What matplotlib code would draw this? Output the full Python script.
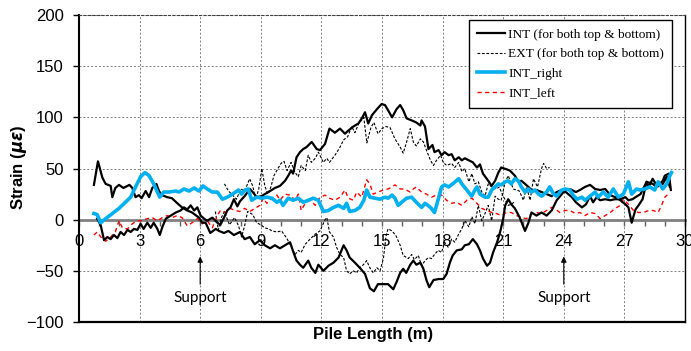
import matplotlib
matplotlib.use('Agg')
import matplotlib.pyplot as plt
from matplotlib.ticker import MultipleLocator

plt.rcParams['font.family'] = 'Liberation Sans'
plt.rcParams['mathtext.fontset'] = 'dejavusans'

# INT, top gauge line (starts high, ends low then back up)
int_a_x = [0.74, 0.94, 1.16, 1.32, 1.57, 1.65, 1.8, 1.98, 2.2, 2.5, 2.64, 2.8, 2.97, 3.1, 3.3, 3.47,
           3.63, 3.83, 3.96, 4.1, 4.37, 4.6, 4.87, 5.1, 5.36, 5.6, 5.94, 6.1, 6.27, 6.5, 6.77, 6.93,
           7.18, 7.4, 7.67, 7.97, 8.2, 8.46, 8.7, 8.96, 9.2, 9.46, 9.7, 9.95, 10.2, 10.45, 10.6, 10.77,
           10.94, 11.1, 11.35, 11.5, 11.7, 11.85, 12.1, 12.35, 12.6, 12.85, 13.1, 13.25, 13.4, 13.66,
           13.9, 14.16, 14.4, 14.6, 14.8, 15.05, 15.3, 15.56, 15.72, 15.9, 16.05, 16.2, 16.4, 16.55,
           16.7, 16.9, 17.05, 17.2, 17.34, 17.55, 17.8, 18.03, 18.2, 18.36, 18.5, 18.7, 18.95, 19.1,
           19.3, 19.5, 19.7, 19.85, 20.0, 20.2, 20.35, 20.5, 20.7, 20.85, 21.0, 21.1, 21.25, 21.4,
           21.58, 21.82, 22.08, 22.25, 22.4, 22.65, 22.9, 23.15, 23.4, 23.65, 23.9, 24.07, 24.3, 24.6,
           24.8, 25.05, 25.3, 25.55, 25.8, 26.05, 26.3, 26.54, 26.8, 27.05, 27.2, 27.36, 27.55, 27.7,
           27.9, 28.1, 28.4, 28.6, 28.9, 29.1, 29.25]
int_a_y = [34, 57, 41, 35, 33, 22, 31, 34, 31, 34, 31, 22, 24, 21, 28, 22,
           31, 35, 28, 24, 22, 21, 16, 12, 9, 7, 2, -3, -3, -13, -9, -11,
           -13, -11, -15, -12, -19, -17, -24, -20, -25, -28, -25, -28, -25, -22, -31, -40,
           -44, -47, -40, -47, -52, -44, -50, -45, -42, -37, -25, -30, -37, -42,
           -47, -53, -67, -70, -63, -63, -63, -68, -61, -52, -48, -52, -44, -40,
           -44, -42, -48, -59, -66, -59, -58, -58, -53, -42, -35, -30, -29, -25,
           -24, -19, -24, -30, -38, -45, -42, -32, -22, -12, 1, 14, 20, 15,
           11, 2, -11, -3, 7, 4, 7, 4, 9, 19, 25, 29, 30, 27,
           29, 32, 34, 30, 29, 30, 24, 22, 19, 15, 12, -3, 10, 14,
           20, 37, 35, 32, 35, 42, 32]

# INT, bottom gauge line (starts low, ends high)
int_b_x = [0.9, 1.07, 1.24, 1.4, 1.57, 1.73, 1.9, 2.06, 2.23, 2.4, 2.56, 2.72, 2.89, 3.05, 3.2, 3.38,
           3.55, 3.7, 3.88, 4.0, 4.13, 4.3, 4.54, 4.79, 5.03, 5.2, 5.36, 5.53, 5.7, 5.86, 6.02, 6.19,
           6.35, 6.6, 6.85, 7.0, 7.18, 7.34, 7.5, 7.67, 7.84, 7.97, 8.2, 8.46, 8.6, 8.8, 9.04, 9.2,
           9.46, 9.7, 9.95, 10.2, 10.36, 10.5, 10.6, 10.77, 10.94, 11.1, 11.27, 11.52, 11.77, 11.93,
           12.18, 12.4, 12.67, 12.92, 13.17, 13.33, 13.58, 13.83, 14.0, 14.16, 14.32, 14.5, 14.75,
           14.98, 15.15, 15.3, 15.5, 15.72, 15.9, 16.05, 16.22, 16.47, 16.7, 16.9, 16.96, 17.13, 17.3,
           17.5, 17.6, 17.8, 17.95, 18.1, 18.3, 18.45, 18.6, 18.8, 18.95, 19.1, 19.3, 19.5, 19.7,
           19.85, 20.0, 20.26, 20.43, 20.6, 20.76, 20.9, 21.2, 21.33, 21.58, 21.75, 21.9, 22.08, 22.25,
           22.4, 22.65, 22.9, 23.15, 23.4, 23.65, 23.9, 24.1, 24.4, 24.6, 24.9, 25.1, 25.3, 25.45,
           25.63, 25.8, 26.05, 26.3, 26.54, 26.8, 27.05, 27.2, 27.4, 27.55, 27.8, 28.1, 28.2, 28.4,
           28.55, 28.7, 28.9, 29.0, 29.2, 29.3]
int_b_y = [1, -5, -20, -17, -19, -15, -18, -12, -15, -10, -12, -9, -10, -4, -9, -3,
           -8, -3, -9, -15, -7, 1, 4, 7, 9, 12, 10, 14, 9, 12, 4, 1,
           -1, 2, -3, -5, 2, 9, 12, 20, 13, 18, 23, 30, 27, 22, 23, 25,
           28, 31, 33, 38, 43, 48, 45, 61, 66, 69, 71, 76, 69, 68,
           74, 89, 85, 89, 84, 87, 91, 94, 99, 105, 94, 102, 108,
           113, 112, 107, 100, 108, 112, 107, 99, 97, 95, 92, 97, 91, 69,
           73, 66, 68, 63, 66, 63, 64, 58, 61, 58, 60, 58, 56, 51,
           54, 45, 38, 33, 38, 46, 51, 49, 48, 43, 37, 38, 35, 32,
           29, 29, 27, 25, 23, 27, 29, 27, 22, 17, 12, 15, 23, 17,
           22, 19, 20, 19, 20, 20, 22, 19, 20, 22, 25, 37, 32, 40,
           35, 34, 38, 43, 45, 29]

# EXT, upper branch
ext_a_x = [7.2, 7.4, 7.6, 7.8, 8.0, 8.2, 8.45, 8.6, 8.75, 8.9, 9.05, 9.2, 9.35, 9.5, 9.65, 9.85,
           10.0, 10.15, 10.3, 10.5, 10.7, 10.86, 11.0, 11.2, 11.35, 11.5, 11.7, 11.85, 12.1, 12.27,
           12.4, 12.67, 12.9, 13.1, 13.3, 13.5, 13.66, 13.85, 14.1, 14.25, 14.45, 14.6, 14.8, 15.0,
           15.2, 15.4, 15.64, 15.9, 16.05, 16.22, 16.4, 16.55, 16.7, 16.9, 17.05, 17.2, 17.4, 17.55,
           17.7, 17.9, 18.03, 18.2, 18.45, 18.6, 18.8, 18.95, 19.1, 19.3, 19.45, 19.6, 19.77, 19.94,
           20.1, 20.26, 20.43, 20.67, 20.8, 21.0, 21.25, 21.4, 21.6]
ext_a_y = [35, 28, 24, 20, 30, 28, 40, 33, 20, 30, 50, 33, 25, 32, 43, 50,
           55, 57, 48, 56, 46, 42, 53, 48, 63, 56, 60, 66, 56, 60,
           56, 63, 70, 78, 81, 91, 85, 94, 100, 75, 90, 95, 84, 89,
           91, 90, 79, 71, 65, 76, 89, 76, 72, 79, 76, 68, 58, 53,
           58, 63, 56, 53, 55, 51, 56, 47, 50, 37, 45, 35, 37, 27,
           23, 35, 32, 30, 32, 23, 14, 15, 18]

# EXT, lower branch
ext_b_x = [6.75, 6.9, 7.05, 7.2, 7.45, 7.7, 7.9, 8.05, 8.2, 8.35, 8.6, 8.8, 9.0, 9.2, 9.4, 9.55,
           9.8, 10.03, 10.28, 10.5, 10.7, 10.86, 11.0, 11.2, 11.44, 11.7, 11.93, 12.18, 12.27, 12.4,
           12.6, 12.75, 12.92, 13.1, 13.25, 13.4, 13.58, 13.75, 13.9, 14.08, 14.24, 14.4, 14.57, 14.75,
           14.9, 15.07, 15.2, 15.3, 15.5, 15.7, 15.9, 16.05, 16.3, 16.47, 16.6, 16.8, 16.96, 17.13,
           17.3, 17.45, 17.6, 17.78, 17.95, 18.1, 18.28, 18.45, 18.6, 18.8, 18.95, 19.1, 19.3, 19.45,
           19.6, 19.77, 19.94, 20.1, 20.26, 20.43, 20.6, 20.76, 20.9, 21.1, 21.25, 21.5, 21.8, 22.0,
           22.16, 22.33, 22.5, 22.7, 22.9, 23.0, 23.15, 23.3]
ext_b_y = [8, -10, 2, 8, -5, 2, -6, -17, -6, 8, 5, -3, -5, -8, -9, -11,
           -12, -11, -18, -26, -34, -30, -32, -24, -19, -14, -11, 0, 2, -12,
           -17, -27, -34, -37, -50, -53, -50, -52, -47, -44, -40, -47, -52, -47,
           -50, -38, -16, -9, -11, -16, -25, -35, -38, -34, -39, -35, -45, -40,
           -37, -38, -34, -30, -32, -22, -27, -19, -22, -14, -9, -1, -7, 3,
           -4, 14, -1, 6, 14, -1, 23, 20, 19, 37, 43, 30, 28, 19,
           32, 19, 40, 32, 50, 55, 50, 51]

# INT_right
right_x = [0.74, 0.9, 1.07, 1.32, 1.65, 1.98, 2.3, 2.56, 2.8, 3.05, 3.27, 3.47, 3.7, 3.88, 4.0, 4.2,
           4.45, 4.79, 4.95, 5.2, 5.45, 5.7, 5.94, 6.14, 6.35, 6.6, 6.85, 7.1, 7.34, 7.6, 7.9, 8.05,
           8.22, 8.38, 8.55, 8.8, 9.04, 9.3, 9.55, 9.8, 9.95, 10.1, 10.36, 10.6, 10.86, 11.1, 11.35,
           11.6, 11.85, 12.1, 12.35, 12.6, 12.85, 13.1, 13.25, 13.4, 13.66, 13.9, 14.1, 14.24, 14.4,
           14.66, 14.9, 15.15, 15.3, 15.5, 15.64, 15.8, 15.97, 16.22, 16.47, 16.7, 16.96, 17.13, 17.4,
           17.6, 17.8, 17.95, 18.1, 18.3, 18.5, 18.8, 18.95, 19.2, 19.44, 19.6, 19.7, 19.85, 20.1,
           20.26, 20.43, 20.6, 20.76, 20.9, 21.1, 21.25, 21.4, 21.58, 21.75, 21.9, 22.08, 22.25, 22.4,
           22.58, 22.75, 22.9, 23.15, 23.3, 23.5, 23.65, 23.9, 24.07, 24.3, 24.5, 24.66, 24.9, 25.05,
           25.3, 25.55, 25.7, 25.95, 26.2, 26.45, 26.7, 26.95, 27.2, 27.36, 27.6, 27.77, 28.0, 28.26,
           28.5, 28.67, 28.9, 29.1, 29.25, 29.33]
right_y = [6, 5, -3, 1, 6, 11, 17, 22, 32, 42, 46, 43, 35, 27, 22, 27,
           27, 28, 27, 30, 28, 31, 28, 33, 30, 27, 27, 20, 22, 25, 29, 25,
           29, 30, 19, 22, 21, 22, 21, 17, 19, 14, 21, 19, 21, 17, 19,
           21, 19, 8, 9, 12, 14, 11, 16, 8, 9, 12, 19, 29, 22,
           21, 20, 22, 21, 24, 21, 14, 17, 21, 22, 17, 12, 16, 12,
           7, 21, 32, 34, 32, 35, 40, 35, 29, 23, 29, 32, 25, 22,
           22, 29, 32, 35, 34, 37, 38, 35, 40, 38, 32, 27, 30, 27,
           29, 25, 23, 27, 32, 25, 23, 29, 30, 29, 23, 20, 22, 19,
           23, 27, 22, 27, 22, 30, 22, 25, 37, 25, 30, 29, 30, 32,
           29, 37, 30, 35, 43, 46]

# INT_left
left_x = [0.74, 0.9, 1.16, 1.32, 1.57, 1.8, 1.98, 2.15, 2.4, 2.64, 2.89, 3.1, 3.38, 3.63, 3.88, 4.13,
          4.37, 4.6, 4.87, 5.1, 5.36, 5.6, 5.86, 6.1, 6.35, 6.6, 6.85, 7.0, 7.26, 7.5, 7.72, 7.97,
          8.2, 8.46, 8.7, 8.96, 9.12, 9.3, 9.55, 9.8, 9.95, 10.2, 10.45, 10.7, 10.86, 11.0, 11.2,
          11.44, 11.7, 11.93, 12.18, 12.4, 12.67, 12.92, 13.17, 13.33, 13.58, 13.75, 14.0, 14.24, 14.4,
          14.57, 14.8, 15.07, 15.3, 15.5, 15.64, 15.9, 16.1, 16.4, 16.55, 16.7, 16.96, 17.2, 17.45,
          17.7, 17.95, 18.2, 18.45, 18.7, 18.95, 19.2, 19.45, 19.7, 19.94, 20.2, 20.43, 20.67, 20.9,
          21.17, 21.4, 21.67, 21.9, 22.16, 22.4, 22.65, 22.9, 23.15, 23.4, 23.55, 23.8, 24.07, 24.3,
          24.57, 24.8, 25.05, 25.3, 25.55, 25.8, 26.05, 26.3, 26.54, 26.8, 26.95, 27.2, 27.45, 27.7,
          27.95, 28.2, 28.43, 28.67, 28.84, 29.0, 29.17]
left_y = [-15, -12, -19, -21, -17, -12, -1, -8, -9, -4, -1, -1, 1, 2, -1, 2,
          4, 2, 4, 2, -6, -3, 1, -4, -1, -8, 4, 9, 7, 11, 9, 8,
          11, 8, 11, 14, 21, 16, 21, 24, 19, 25, 24, 19, 25, 9, 16,
          19, 14, 22, 24, 21, 19, 22, 29, 21, 19, 27, 22, 39, 35,
          25, 27, 29, 30, 32, 34, 30, 30, 27, 30, 32, 27, 25, 22,
          24, 24, 19, 16, 17, 14, 19, 21, 16, 11, 9, 7, 6, 4,
          7, 7, 4, 2, 1, 6, 7, 6, 9, 12, 11, 7, 9, 9,
          6, 7, 4, 7, 6, 1, 4, 7, 11, 14, 20, 15, 9, 7,
          7, 9, 9, 7, 14, 22, 25]

support_x = [6, 24]

fig = plt.figure(figsize=(6.91, 3.51), dpi=100)
ax = fig.add_axes([0.1143, 0.0826, 0.877, 0.8746])

ax.plot(int_a_x, int_a_y, color='black', lw=1.6, zorder=4,
        label='INT (for both top & bottom)')
ax.plot(int_b_x, int_b_y, color='black', lw=1.6, zorder=4)
ax.plot(ext_a_x, ext_a_y, color='black', lw=0.8, ls=(0, (2.5, 1.5)), zorder=3,
        label='EXT (for both top & bottom)')
ax.plot(ext_b_x, ext_b_y, color='black', lw=0.8, ls=(0, (2.5, 1.5)), zorder=3)
ax.plot(right_x, right_y, color='#00B0F0', lw=2.6, zorder=5, label='INT_right')
ax.plot(left_x, left_y, color='#FF0000', lw=1.0, ls=(0, (3, 2.5)), zorder=3, label='INT_left')

ax.set_xlim(0, 30)
ax.set_ylim(-100, 200)
ax.xaxis.set_major_locator(MultipleLocator(3))
ax.xaxis.set_minor_locator(MultipleLocator(1))
ax.yaxis.set_major_locator(MultipleLocator(50))

ax.grid(True, which='major', color='#808080', lw=0.7, ls=(0, (2, 2)))
ax.set_axisbelow(True)

# x axis sits on the zero line
ax.spines['bottom'].set_position(('data', 0))
ax.spines['bottom'].set_color('#808080')
ax.spines['bottom'].set_linewidth(2)
ax.spines['bottom'].set_zorder(2)
ax.spines['left'].set_linewidth(1.5)
ax.spines['right'].set_linewidth(1.0)
ax.spines['top'].set_linestyle((0, (2, 2)))
ax.spines['top'].set_color('#404040')
ax.spines['top'].set_linewidth(0.8)
ax.axhline(-100, color='black', lw=1.6, clip_on=False, zorder=6)

ax.tick_params(axis='x', which='both', direction='out', length=4, width=1,
               color='#606060', labelsize=12, pad=6)
ax.tick_params(axis='y', direction='out', length=4, width=1, labelsize=12, pad=7)

ax.text(0.485, -0.042, 'Pile Length (m)', transform=ax.transAxes, ha='center', va='center',
        fontsize=12, fontweight='bold')
ax.text(-0.099, 0.505, r'Strain ($\mathbfit{\mu\varepsilon}$)', transform=ax.transAxes,
        rotation=90, ha='center', va='center', fontsize=12, fontweight='bold')

for sx in support_x:
    ax.annotate('', xy=(sx, -36), xytext=(sx, -63),
                arrowprops=dict(arrowstyle='-|>', color='black', lw=0.8,
                                mutation_scale=8, shrinkA=0, shrinkB=0))
    ax.text(sx, -77, 'Support', ha='center', va='center', fontsize=11, family='Lato')

leg = ax.legend(loc='upper right', bbox_to_anchor=(0.9785, 0.983), borderaxespad=0,
                prop={'family': 'Liberation Serif', 'size': 9.6}, fancybox=False,
                framealpha=1, edgecolor='black', handlelength=2.1, handletextpad=0.25,
                labelspacing=0.55, borderpad=0.6)
leg.get_frame().set_linewidth(1.0)
leg.set_zorder(10)

fig.savefig('out.png', dpi=100)
